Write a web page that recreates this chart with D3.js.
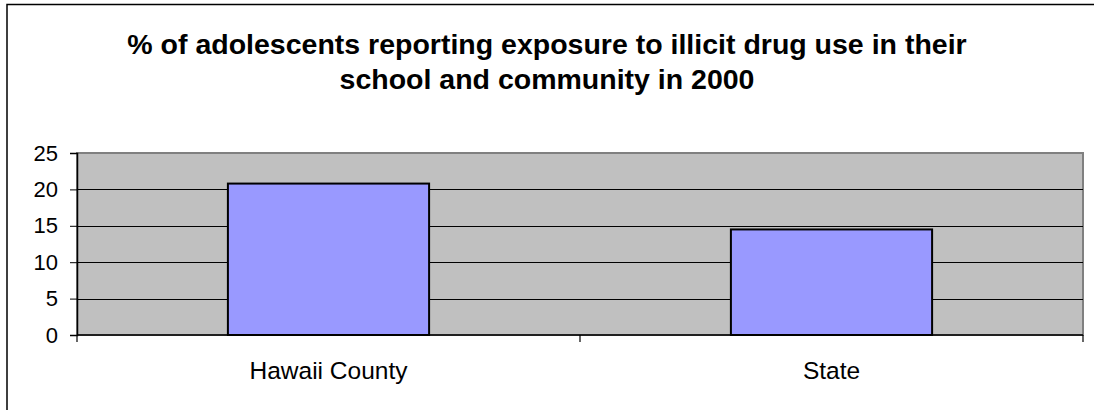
<!DOCTYPE html>
<html>
<head>
<meta charset="utf-8">
<script src="https://cdn.jsdelivr.net/npm/d3@7"></script>
<style>
  body { margin: 0; background: #fff; }
  text { font-family: Arial, "Liberation Sans", sans-serif; }
</style>
</head>
<body>
<div id="chart"></div>
<script>
// data
const categories = ["Hawaii County", "State"];
const values = [20.8, 14.5];
const yTicks = [0, 5, 10, 15, 20, 25];
const titleLines = [
    "% of adolescents reporting exposure to illicit drug use in their",
    "school and community in 2000"
];

const width = 1094;
const height = 410;
const margin = { top: 153, right: 11, bottom: 75, left: 77 };

const svg = d3.select("#chart")
    .append("svg")
    .attr("width", width)
    .attr("height", height);

//outer chart border (runs off the right and bottom)
svg.append("rect")
    .attr("x", 7)
    .attr("y", 4.5)
    .attr("width", 1100)
    .attr("height", 420)
    .attr("fill", "#fff")
    .attr("stroke", "#000")
    .attr("stroke-width", 1.5);

//scales
const xScale = d3.scaleBand()
    .domain(categories)
    .range([margin.left, width - margin.right])
    .padding(0);

const yScale = d3.scaleLinear()
    .domain([0, 25])
    .range([height - margin.bottom, margin.top]);

const plotW = width - margin.right - margin.left;
const plotH = height - margin.bottom - margin.top;

//grey plot area
svg.append("rect")
    .attr("x", margin.left)
    .attr("y", margin.top)
    .attr("width", plotW)
    .attr("height", plotH)
    .attr("fill", "#c0c0c0")
    .attr("stroke", "#808080")
    .attr("stroke-width", 2);

//gridlines
svg.append("g")
    .selectAll("line")
    .data(yTicks.filter(function(d) { return d > 0 && d < 25; }))
    .enter()
    .append("line")
    .attr("x1", margin.left)
    .attr("x2", width - margin.right)
    .attr("y1", function(d) { return Math.round(yScale(d)) + 0.5; })
    .attr("y2", function(d) { return Math.round(yScale(d)) + 0.5; })
    .attr("stroke", "#000")
    .attr("stroke-width", 1);

//bars, 40% of each category band
const barW = xScale.bandwidth() * 0.4;
svg.append("g")
    .selectAll("rect")
    .data(values)
    .enter()
    .append("rect")
    .attr("x", function(d, i) { return xScale(categories[i]) + (xScale.bandwidth() - barW) / 2; })
    .attr("y", function(d) { return yScale(d); })
    .attr("width", barW)
    .attr("height", function(d) { return yScale(0) - yScale(d); })
    .attr("fill", "#9999ff")
    .attr("stroke", "#000")
    .attr("stroke-width", 2);

//y axis
const yAxis = svg.append("g")
    .attr("transform", "translate(" + margin.left + ",0)")
    .call(d3.axisLeft(yScale).tickValues(yTicks).tickSize(7).tickPadding(12));
yAxis.select(".domain").attr("stroke", "#000").attr("stroke-width", 1.5);
yAxis.selectAll("line").attr("stroke", "#000");
yAxis.selectAll("text")
    .style("font-size", "22px")
    .attr("fill", "#000");

//x axis: ticks sit between categories
const xAxisG = svg.append("g")
    .attr("transform", "translate(0," + yScale(0) + ")");
xAxisG.append("line")
    .attr("x1", margin.left)
    .attr("x2", width - margin.right)
    .attr("stroke", "#000")
    .attr("stroke-width", 1.5);
const boundaries = categories.map(function(c) { return xScale(c); })
    .concat([xScale(categories[categories.length - 1]) + xScale.bandwidth()]);
xAxisG.selectAll(".tick")
    .data(boundaries)
    .enter()
    .append("line")
    .attr("x1", function(d) { return d; })
    .attr("x2", function(d) { return d; })
    .attr("y1", 0)
    .attr("y2", 7)
    .attr("stroke", "#000")
    .attr("stroke-width", 1.2);
xAxisG.selectAll("text")
    .data(categories)
    .enter()
    .append("text")
    .attr("x", function(d) { return xScale(d) + xScale.bandwidth() / 2; })
    .attr("y", 44)
    .attr("text-anchor", "middle")
    .style("font-size", "24.5px")
    .text(function(d) { return d; });

//title
svg.append("g")
    .selectAll("text")
    .data(titleLines)
    .enter()
    .append("text")
    .attr("x", 547)
    .attr("y", function(d, i) { return 54 + i * 35; })
    .attr("text-anchor", "middle")
    .style("font-size", "28.5px")
    .style("font-weight", "bold")
    .text(function(d) { return d; });
</script>
</body>
</html>
